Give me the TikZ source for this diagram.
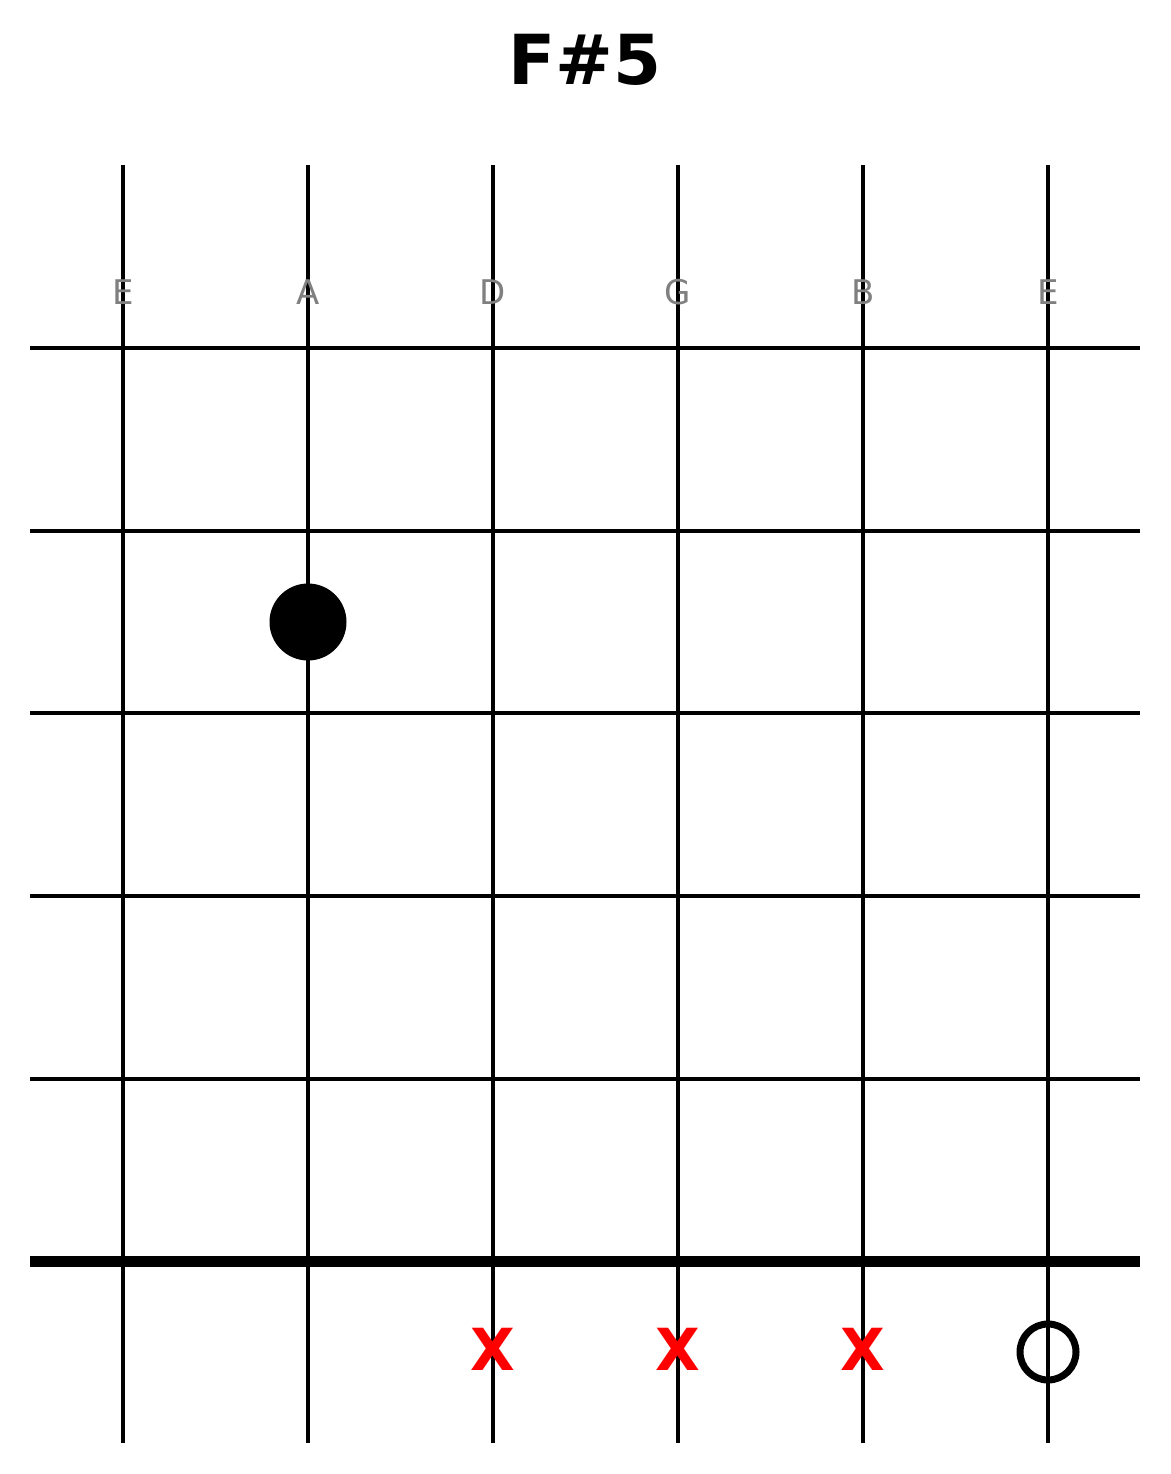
\documentclass[tikz,border=0pt]{standalone}
\usepackage{fontspec}
\setmainfont{DejaVu Sans}
\usepackage{xcolor}
\usetikzlibrary{positioning}
\definecolor{mute}{HTML}{FF0000}
\definecolor{labelgray}{HTML}{808080}

\begin{document}
\begin{tikzpicture}[
  x=1pt,y=-1pt,
  strline/.style={line width=3.5pt,draw=black},
  fretline/.style={line width=3.5pt,draw=black},
  nutline/.style={line width=11pt,draw=black},
  strname/.style={text=labelgray,font=\fontsize{34}{36}\selectfont,inner sep=0pt},
  cross/.style={text=mute,font=\fontsize{58}{60}\selectfont\bfseries,inner sep=0pt},
  finger/.style={circle,fill=black,minimum size=77pt,inner sep=0pt},
  openring/.style={circle,draw=black,line width=7pt,minimum size=56pt,inner sep=0pt}
]
\useasboundingbox (0,0) rectangle (1170,1474);
\node[font=\fontsize{69}{72}\selectfont\bfseries,inner sep=0pt] (title) at (585,60) {F\#5};
% strings
\foreach \i/\s in {1/E,2/A,3/D,4/G,5/B,6/E} {
  \coordinate (top\i) at ({123+185*(\i-1)},165);
  \coordinate (bot\i) at ({123+185*(\i-1)},1443);
  \draw[strline] (top\i) -- (bot\i);
  \node[strname] (lab\i) at ({123+185*(\i-1)},292) {\s};
}
% frets
\foreach \j/\y in {1/348,2/531,3/713,4/896,5/1079} {
  \coordinate (fl\j) at (30,\y);
  \coordinate (fr\j) at (1140,\y);
  \draw[fretline] (fl\j) -- (fr\j);
}
\coordinate (nutl) at (30,1261);
\coordinate (nutr) at (1140,1261);
\draw[nutline] (nutl) -- (nutr);
% markers
\node[finger] (dot) at (308,622) {};
\foreach \i in {3,4,5}
  \node[cross] (x\i) at ({123+185*(\i-1)},1349) {X};
\node[openring] (o6) at (1048,1352) {};
\end{tikzpicture}
\end{document}
